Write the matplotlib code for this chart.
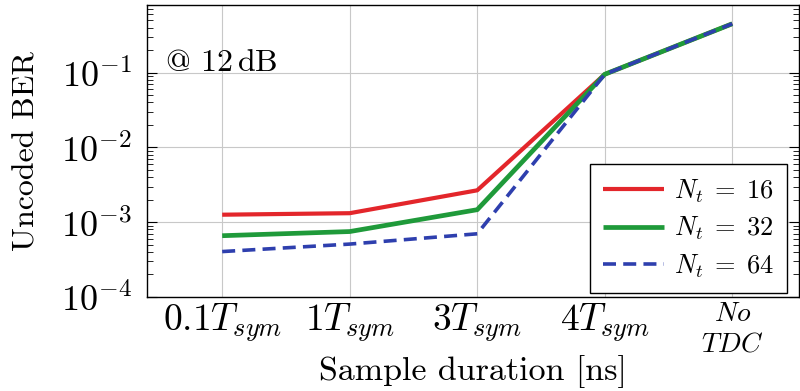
import matplotlib
matplotlib.use("Agg")
import matplotlib.pyplot as plt
from matplotlib.ticker import LogLocator, NullFormatter

plt.rcParams['font.family'] = 'serif'
plt.rcParams['font.serif'] = ['cmr10', 'DejaVu Serif']
plt.rcParams['mathtext.fontset'] = 'cm'
plt.rcParams['axes.formatter.use_mathtext'] = True

# data
labels = [r'$0.1T_{sym}$', r'$1T_{sym}$', r'$3T_{sym}$', r'$4T_{sym}$', '$No$\n$TDC$']
ber_16 = [1.26e-3, 1.32e-3, 2.67e-3, 0.095, 0.45]
ber_32 = [6.6e-4, 7.5e-4, 1.47e-3, 0.095, 0.45]
ber_64 = [4.05e-4, 5.1e-4, 7.0e-4, 0.095, 0.45]
names = [r'$N_t\;=\;16$', r'$N_t\;=\;32$', r'$N_t\;=\;64$']

x = list(range(len(labels)))

fig = plt.figure(figsize=(8, 3.91), dpi=100)
ax = fig.add_axes([0.184, 0.2404, 0.815, 0.7466])

ax.plot(x, ber_16, color='#e3262b', lw=3.0, label=names[0], solid_capstyle='butt')
ax.plot(x, ber_32, color='#1f9a3a', lw=3.4, label=names[1], solid_capstyle='butt')
ax.plot(x, ber_64, color='#2e3fae', lw=2.6, ls=(0, (3.6, 2.0)), label=names[2])

ax.set_yscale('log')
ax.set_ylim(1e-4, 0.8)
ax.set_xlim(-0.588, 4.525)
ax.set_xticks(x)
ax.set_xticklabels(labels, fontsize=27)
ax.get_xticklabels()[-1].set_fontsize(20)
ax.yaxis.set_major_locator(LogLocator(base=10, numticks=10))
ax.yaxis.set_minor_locator(LogLocator(base=10, subs=range(2, 10), numticks=20))
ax.yaxis.set_minor_formatter(NullFormatter())
ax.tick_params(axis='y', which='both', direction='in', left=True, right=True,
               labelsize=26, pad=11)
ax.tick_params(axis='y', which='major', length=7, width=0.8)
ax.tick_params(axis='y', which='minor', length=4, width=0.6)
ax.tick_params(axis='x', length=0, pad=3)
ax.grid(True, which='major', color='#c8c8c8', lw=0.8)
ax.set_axisbelow(True)
for s in ax.spines.values():
    s.set_linewidth(1.0)

ax.set_xlabel('Sample duration [ns]', fontsize=24.5)
ax.xaxis.set_label_coords(0.5, -0.2)
ax.set_ylabel('Uncoded BER', fontsize=23)
ax.yaxis.set_label_coords(-0.163, 0.5)

ax.text(0.027, 0.80, r'@ 12$\,$dB', transform=ax.transAxes, fontsize=23,
        va='center', ha='left')

leg = ax.legend(loc='upper right', bbox_to_anchor=(0.9816, 0.4555), fontsize=19,
                frameon=True, fancybox=False, edgecolor='black', framealpha=1,
                handlelength=2.3, handletextpad=0.4, borderaxespad=0,
                labelspacing=0.38, borderpad=0.5)
leg.get_frame().set_linewidth(1.0)

fig.savefig('out.png', dpi=100)
